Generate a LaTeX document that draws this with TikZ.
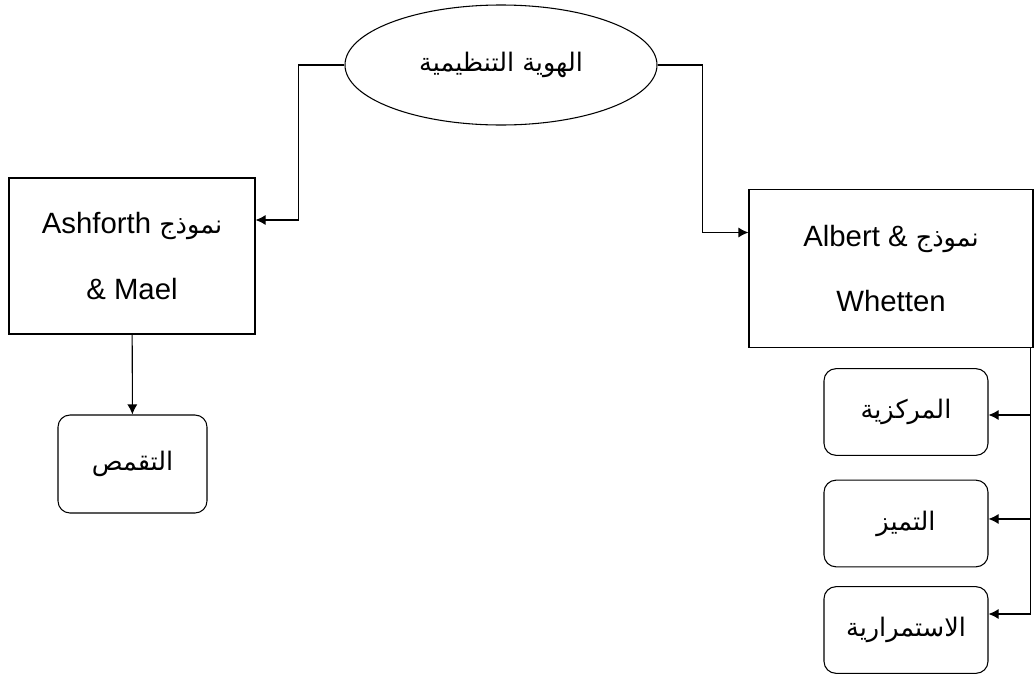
\documentclass[tikz,border=0pt]{standalone}
\usepackage{fontspec}
\setmainfont{Liberation Sans}
\newfontfamily\arabicfont[Script=Arabic,Scale=0.87]{DejaVu Sans}
\TeXXeTstate=1
\usetikzlibrary{shapes.geometric,arrows.meta}
\newcommand{\ar}[1]{{\arabicfont\beginR #1\endR}}

\begin{document}
\begin{tikzpicture}[x=0.75pt, y=-0.75pt]

        \tikzstyle{model} = [rectangle, draw, line width=0.8pt, align=center, font=\fontsize{22}{49}\selectfont]
        \tikzstyle{part}  = [rectangle, rounded corners=9pt, draw, line width=0.8pt, font=\fontsize{22}{26}\selectfont]
        \tikzstyle{link}  = [draw, line width=0.8pt, -{Latex[length=7.5pt, width=7.5pt]}]

        \useasboundingbox (0,0) rectangle (1035,675);

        \node [ellipse, draw, line width=0.8pt, minimum width=234pt, minimum height=90pt, inner sep=0pt,
               font=\fontsize{22}{26}\selectfont](id) at (501,65) {\ar{الهوية التنظيمية}};

        \node [model, minimum width=184.5pt, minimum height=117pt](ma) at (132,256)
              {Ashforth \ar{نموذج}\\ \& Mael};
        \node [model, minimum width=213pt, minimum height=119pt](aw) at (891,268.5)
              {Albert \& \ar{نموذج}\\ Whetten};

        \node [part, minimum width=111.75pt, minimum height=73.5pt](tq) at (132.5,464) {\ar{التقمص}};

        \foreach \y/\name/\txt in {412/mk/المركزية, 523.5/tm/التميز, 630/st/الاستمرارية}
        {
                \node [part, minimum width=123pt, minimum height=65pt](\name) at (906,\y) {\ar{\txt}};
        }

        \draw [link] (id.west) -- ++(-46,0) |- ([yshift=27pt]ma.east);
        \draw [link] (id.east) -- ++(45,0) |- ([yshift=27pt]aw.west);
        \draw [link] (ma) -- (tq);

        \foreach \name/\dy in {mk/-2.25pt, tm/3.4pt, st/12pt}
        {
                \draw [link] ([xshift=-2pt]aw.south east) |- ([yshift=\dy]\name.east);
        }
\end{tikzpicture}
\end{document}
